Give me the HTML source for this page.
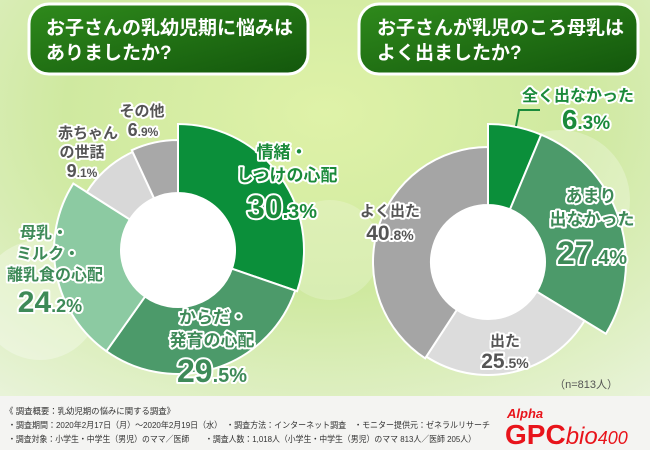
<!DOCTYPE html>
<html><head><meta charset="utf-8"><style>
html,body{margin:0;padding:0;width:650px;height:450px;overflow:hidden}
body{font-family:"Liberation Sans","Noto Sans CJK JP",sans-serif}
svg text{font-family:"Liberation Sans","Noto Sans CJK JP",sans-serif;font-weight:bold;paint-order:stroke;stroke-linejoin:round}
</style></head><body>
<svg width="650" height="450" viewBox="0 0 650 450">
<defs>
<radialGradient id="bg" cx="0.5" cy="0.25" r="0.8">
<stop offset="0" stop-color="#dff2a8"/><stop offset="0.5" stop-color="#cfe9a0"/><stop offset="1" stop-color="#e8f3d8"/>
</radialGradient>
<linearGradient id="box" x1="0" y1="0" x2="1" y2="1">
<stop offset="0" stop-color="#2f8a1c"/><stop offset="1" stop-color="#13570c"/>
</linearGradient>
</defs>
<rect width="650" height="450" fill="url(#bg)"/>
<circle cx="560" cy="200" r="70" fill="#fff" opacity="0.25"/>
<circle cx="40" cy="300" r="60" fill="#fff" opacity="0.3"/>
<circle cx="330" cy="250" r="50" fill="#fff" opacity="0.2"/>

<g>
<rect x="29" y="4" width="279" height="70" rx="20" fill="url(#box)" stroke="#fff" stroke-width="3"/>
<text x="46" y="34" font-size="19" fill="#fff">お子さんの乳幼児期に悩みは</text>
<text x="46" y="59" font-size="19" fill="#fff">ありましたか?</text>
</g>
<g>
<rect x="359" y="4" width="279" height="70" rx="20" fill="url(#box)" stroke="#fff" stroke-width="3"/>
<text x="377" y="34" font-size="19" fill="#fff">お子さんが乳児のころ母乳は</text>
<text x="377" y="59" font-size="19" fill="#fff">よく出ましたか?</text>
</g>

<g id="left"></g>
<g id="right"></g>

<g text-anchor="middle" stroke="#fff" stroke-width="4">
<text x="282" y="158" font-size="17" fill="#1a8a3a">情緒・</text>
<text x="287" y="181" font-size="17" fill="#1a8a3a">しつけの心配</text>
<text x="282" y="218" font-size="32" fill="#1a8a3a">30<tspan font-size="20">.3%</tspan></text>
<text x="213" y="323" font-size="17" fill="#3e8a58">からだ・</text>
<text x="212" y="346" font-size="17" fill="#3e8a58">発育の心配</text>
<text x="212" y="382" font-size="32" fill="#3e8a58">29<tspan font-size="20">.5%</tspan></text>
<text x="44" y="238" font-size="16" fill="#3e8a58">母乳・</text>
<text x="48" y="259" font-size="16" fill="#3e8a58">ミルク・</text>
<text x="55" y="280" font-size="16" fill="#3e8a58">離乳食の心配</text>
<text x="50" y="312" font-size="30" fill="#3e8a58">24<tspan font-size="18">.2%</tspan></text>
<text x="88" y="138" font-size="15" fill="#555">赤ちゃん</text>
<text x="82" y="157" font-size="15" fill="#555">の世話</text>
<text x="82" y="177" font-size="18" fill="#555">9<tspan font-size="12">.1%</tspan></text>
<text x="142" y="116" font-size="15" fill="#555">その他</text>
<text x="143" y="136" font-size="18" fill="#555">6<tspan font-size="12">.9%</tspan></text>
</g>

<g text-anchor="middle" stroke="#fff" stroke-width="4">
<text x="578" y="101" font-size="16" fill="#1a8a3a">全く出なかった</text>
<text x="586" y="129" font-size="28" fill="#1a8a3a">6<tspan font-size="19">.3%</tspan></text>
<polyline points="516,126 519,110 540,110" fill="none" stroke="#1a8a3a" stroke-width="2"/>
<text x="591" y="202" font-size="17" fill="#3e8a58">あまり</text>
<text x="592" y="225" font-size="17" fill="#3e8a58">出なかった</text>
<text x="592" y="264" font-size="32" fill="#3e8a58">27<tspan font-size="20">.4%</tspan></text>
<text x="390" y="216" font-size="15" fill="#555">よく出た</text>
<text x="390" y="240" font-size="21" fill="#555">40<tspan font-size="14">.8%</tspan></text>
<text x="505" y="346" font-size="15" fill="#555">出た</text>
<text x="505" y="368" font-size="21" fill="#555">25<tspan font-size="14">.5%</tspan></text>
</g>
<text x="618" y="388" font-size="11" fill="#555" style="font-weight:normal" text-anchor="end">（n=813人）</text>

<g>
<rect x="0" y="396" width="650" height="54" fill="#f4f4f2"/>
<text x="5" y="414" font-size="8.5" fill="#333" style="font-weight:normal" textLength="170" lengthAdjust="spacingAndGlyphs">《 調査概要：乳幼児期の悩みに関する調査》</text>
<text x="8" y="428" font-size="8.5" fill="#333" style="font-weight:normal" textLength="482" lengthAdjust="spacingAndGlyphs">・調査期間：2020年2月17日（月）～2020年2月19日（水）　・調査方法：インターネット調査　・モニター提供元：ゼネラルリサーチ</text>
<text x="8" y="442" font-size="8.5" fill="#333" style="font-weight:normal" textLength="468" lengthAdjust="spacingAndGlyphs">・調査対象：小学生・中学生（男児）のママ／医師　　・調査人数：1,018人（小学生・中学生（男児）のママ 813人／医師 205人）</text>
<text x="507" y="418" font-size="13" fill="#e8141b" font-style="italic">Alpha</text>
<text x="505" y="444" font-size="28" fill="#e8141b">GPC<tspan style="font-weight:normal" font-style="italic" font-size="24">bio</tspan><tspan style="font-weight:normal" font-style="italic" font-size="18">400</tspan></text>
</g>
</svg>
<script>
const leftCategories=["情緒・しつけの心配","からだ・発育の心配","母乳・ミルク・離乳食の心配","赤ちゃんの世話","その他"];
const leftValues=[30.3,29.5,24.2,9.1,6.9];
const rightCategories=["全く出なかった","あまり出なかった","出た","よく出た"];
const rightValues=[6.3,27.4,25.5,40.8];
const leftColors=["#0b8f3a","#4c9a6a","#8ccaa2","#d8d8d8","#a8a8a8"];
const leftRadii=[126,124,124,108,110];
const rightColors=["#0b8f3a","#4c9a6a","#dcdcdc","#a5a5a5"];
const rightRadii=[138,138,113,115];
const NS="http://www.w3.org/2000/svg";
function pt(cx,cy,r,a){return [cx+r*Math.sin(a),cy-r*Math.cos(a)];}
function donut(g,vals,cols,radii,cx,cy,ri,prefix){
  const tot=vals.reduce((a,b)=>a+b,0);let a0=0;
  vals.forEach((v,i)=>{
    const a1=a0+v/tot*2*Math.PI,R=radii[i],lg=(a1-a0)>Math.PI?1:0;
    const p1=pt(cx,cy,R,a0),p2=pt(cx,cy,R,a1),p3=pt(cx,cy,ri,a1),p4=pt(cx,cy,ri,a0);
    const p=document.createElementNS(NS,'path');
    p.setAttribute('d',`M${p1}A${R},${R} 0 ${lg} 1 ${p2}L${p3}A${ri},${ri} 0 ${lg} 0 ${p4}Z`);
    p.setAttribute('fill',cols[i]);p.setAttribute('stroke','#fff');p.setAttribute('stroke-width','2');
    
    
    g.appendChild(p);a0=a1;
  });
  const c=document.createElementNS(NS,'circle');
  c.setAttribute('cx',cx);c.setAttribute('cy',cy);c.setAttribute('r',ri);c.setAttribute('fill','#fff');
  
  
  g.appendChild(c);
}
donut(document.getElementById('left'),leftValues,leftColors,leftRadii,178,250,57,'left');
donut(document.getElementById('right'),rightValues,rightColors,rightRadii,488,262,57,'right');
</script>
</body></html>
